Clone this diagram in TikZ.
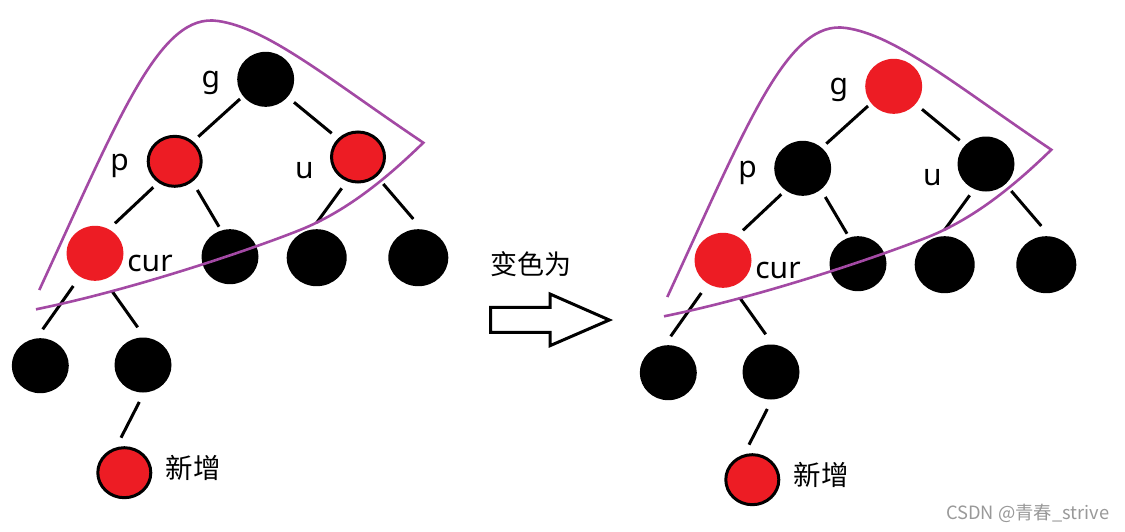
\documentclass[tikz,border=0pt]{standalone}
\usepackage{fontspec}
\setmainfont{Noto Sans}
\newfontfamily\cjk{Noto Sans CJK SC}
\usetikzlibrary{shapes.geometric}
\definecolor{pred}{HTML}{ED1C24}
\definecolor{ppur}{HTML}{A349A4}
\definecolor{wmgray}{HTML}{999999}
\tikzset{
  nd/.style={ellipse, inner sep=0pt, minimum width=57pt, minimum height=55pt},
  blk/.style={nd, fill=black},
  blkw/.style={nd, fill=black, minimum width=60pt, minimum height=57pt},
  redn/.style={nd, fill=pred},
  redo/.style={nd, fill=pred, draw=black, line width=3pt, minimum width=53pt, minimum height=50pt},
  link/.style={draw=black, line width=3pt},
  hull/.style={draw=ppur, line width=2.6pt},
  lbl/.style={inner sep=0pt, anchor=base, font=\fontsize{30pt}{36pt}\selectfont},
  cjkl/.style={inner sep=0pt, anchor=base, font=\cjk\fontsize{27.5pt}{33pt}\selectfont},
}
\newcommand\rbtree[3]{%
  \node[#1] (g) at (265.7,79.3) {};
  \node[#2] (p) at (174.7,161.3) {};
  \node[#3] (u) at (358,157) {};
  \node[redn] (cur) at (95,253.3) {};
  \node[blk] (a) at (230,256.7) {};
  \node[blkw] (b) at (316.7,257.7) {};
  \node[blkw] (c) at (418.3,257.7) {};
  \node[blk] (d) at (40.3,365.7) {};
  \node[blk] (e) at (143,365) {};
  \node[redo] (new) at (124.3,472.7) {};
  \draw[link] ([shift={(-25.7,19.7)}]g.center) -- ([shift={(23.6,-24.6)}]p.center);
  \draw[link] ([shift={(28.3,23)}]g.center) -- ([shift={(-26.3,-23.7)}]u.center);
  \draw[link] ([shift={(-21.4,26)}]p.center) -- ([shift={(20,-30)}]cur.center);
  \draw[link] ([shift={(22.6,28.7)}]p.center) -- ([shift={(-11,-30)}]a.center);
  \draw[link] ([shift={(-16.3,31.3)}]u.center) -- ([shift={(0,-35)}]b.center);
  \draw[link] ([shift={(25.3,27)}]u.center) -- ([shift={(-5,-38.7)}]c.center);
  \draw[link] ([shift={(-21.7,32.7)}]cur.center) -- ([shift={(2.4,-36.4)}]d.center);
  \draw[link] ([shift={(16.7,37.4)}]cur.center) -- ([shift={(-5.3,-37.7)}]e.center);
  \draw[link] ([shift={(-3.7,37)}]e.center) -- ([shift={(-3.3,-35)}]new.center);
  \node[lbl] (lg) at (210.8,87.8) {g};
  \node[lbl] (lp) at (119.7,170.1) {p};
  \node[lbl] (lu) at (304.3,178.8) {u};
  \node[lbl] (lcur) at (150,271.1) {cur};
  \node[cjkl] (lnew) at (193.3,478) {新增};
  \draw[hull] (39.3,290) .. controls (120,115) and (160,12) .. (218,21)
    .. controls (268,28) and (330,80) .. (423.3,142.7)
    .. controls (385,180) and (345,212) .. (300,230)
    .. controls (255,248) and (136,289) .. (36,309.3);
}
\begin{document}
\begin{tikzpicture}[x=1pt, y=-1pt]
\useasboundingbox[fill=white] (0,0) rectangle (1125,531);
\begin{scope}[name prefix=L-]
  \rbtree{blk}{redo}{redo}
\end{scope}
\begin{scope}[shift={(628,7)}, name prefix=R-]
  \rbtree{redn}{blk}{blk}
\end{scope}
\node[cjkl, font=\cjk\fontsize{27pt}{32pt}\selectfont] (chg) at (530.8,274.5) {变色为};
\draw[line width=3pt, fill=white, line join=miter] (490.7,307.3) -- (550,307.3) -- (550,294) -- (609.3,320) -- (550,345.7) -- (550,332.3) -- (490.7,332.3) -- cycle;
\node[inner sep=0pt, anchor=base west, text=wmgray, font=\cjk\fontsize{18.3pt}{22pt}\selectfont] (wm) at (946,519) {CSDN @青春\_strive};
\end{tikzpicture}
\end{document}
